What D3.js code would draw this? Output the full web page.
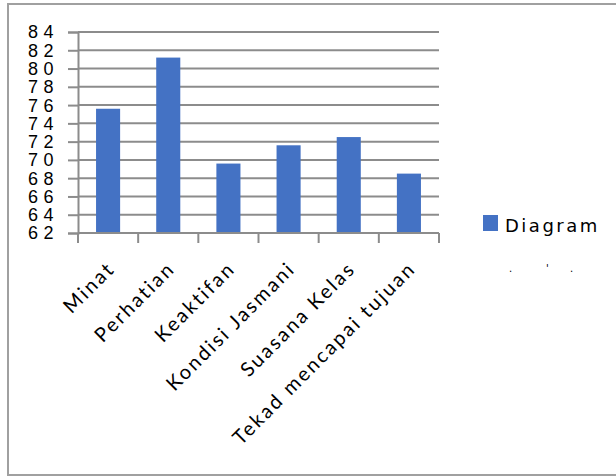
<!DOCTYPE html>
<html>
<head>
<meta charset="utf-8">
<script src="https://cdn.jsdelivr.net/npm/d3@7"></script>
<style>
  body { margin: 0; background: #fff; }
  svg { display: block; }
</style>
</head>
<body>
<script>
// data
let categories = ['Minat', 'Perhatian', 'Keaktifan', 'Kondisi Jasmani', 'Suasana Kelas', 'Tekad mencapai tujuan'];
let values = [75.6, 81.2, 69.6, 71.6, 72.5, 68.5];
let yTicks = [62, 64, 66, 68, 70, 72, 74, 76, 78, 80, 82, 84];
let seriesName = 'Diagram';

let width = 616, height = 476;
let plotLeft = 78, plotRight = 439, plotTop = 32, plotBottom = 233;
let blue = '#4472c4';
let grey = '#8c8c8c';

let svg = d3.select('body').append('svg')
  .attr('width', width)
  .attr('height', height);

// outer chart border (right edge runs off the picture)
svg.append('path')
  .attr('d', 'M620,4 H8 V475 H620')
  .attr('fill', 'none')
  .attr('stroke', '#a0a0a0')
  .attr('stroke-width', 2);

let x = d3.scaleBand()
  .domain(categories)
  .range([plotLeft, plotRight])
  .paddingInner(0.6)
  .paddingOuter(0.3);

let y = d3.scaleLinear()
  .domain([62, 84])
  .range([plotBottom, plotTop]);

// y axis, ticks stick out to the left
let yAxis = svg.append('g')
  .attr('transform', 'translate(' + plotLeft + ',0)')
  .call(d3.axisLeft(y).tickValues(yTicks).tickSize(10).tickFormat(''));
yAxis.select('.domain').attr('stroke', grey).attr('stroke-width', 2);
yAxis.selectAll('.tick line').attr('stroke', grey).attr('stroke-width', 2);

// gridlines
svg.append('g')
  .selectAll('line')
  .data(yTicks.slice(1))
  .join('line')
  .attr('x1', plotLeft)
  .attr('x2', plotRight)
  .attr('y1', d => y(d))
  .attr('y2', d => y(d))
  .attr('stroke', grey)
  .attr('stroke-width', 2);

svg.append('g')
  .selectAll('text')
  .data(yTicks)
  .join('text')
  .attr('x', 59)
  .attr('y', d => y(d))
  .attr('dy', '0.36em')
  .attr('text-anchor', 'end')
  .attr('font-family', 'Liberation Sans, sans-serif')
  .attr('font-size', 18)
  .attr('letter-spacing', 5.5)
  .attr('fill', '#000')
  .text(d => d);

// bars
svg.append('g')
  .selectAll('rect')
  .data(values)
  .join('rect')
  .attr('x', (d, i) => x(categories[i]))
  .attr('width', x.bandwidth())
  .attr('y', d => y(d))
  .attr('height', d => y(62) - y(d))
  .attr('fill', blue);

// x axis, ticks between categories
let xTickPos = d3.range(categories.length + 1).map(i => plotLeft + i * x.step());
svg.append('line')
  .attr('x1', plotLeft).attr('x2', plotRight)
  .attr('y1', plotBottom).attr('y2', plotBottom)
  .attr('stroke', grey).attr('stroke-width', 2);
svg.append('g')
  .selectAll('line')
  .data(xTickPos)
  .join('line')
  .attr('x1', d => d).attr('x2', d => d)
  .attr('y1', plotBottom).attr('y2', plotBottom + 10)
  .attr('stroke', grey).attr('stroke-width', 2);

svg.append('g')
  .selectAll('text')
  .data(categories)
  .join('text')
  .attr('transform', d => 'translate(' + (x(d) + x.bandwidth() / 2 + 8) + ',' + (plotBottom + 37) + ') rotate(-45)')
  .attr('text-anchor', 'end')
  .attr('font-family', 'Lato, sans-serif')
  .attr('font-size', 20)
  .attr('letter-spacing', 2.3)
  .attr('fill', '#000')
  .text(d => d);

// legend
let legend = svg.append('g');
legend.append('rect')
  .attr('x', 483).attr('y', 215)
  .attr('width', 15).attr('height', 16)
  .attr('fill', blue);
legend.append('text')
  .attr('x', 505).attr('y', 232)
  .attr('font-family', 'DejaVu Sans, sans-serif')
  .attr('font-size', 18)
  .attr('letter-spacing', 2.5)
  .attr('fill', '#000')
  .text(seriesName);
// clipped second legend line, only a few dots survive
legend.append('text')
  .attr('x', '509 546 570')
  .attr('y', 272)
  .attr('font-family', 'DejaVu Sans, sans-serif')
  .attr('font-size', 10)
  .attr('fill', '#000')
  .text('.\'.');
</script>
</body>
</html>
